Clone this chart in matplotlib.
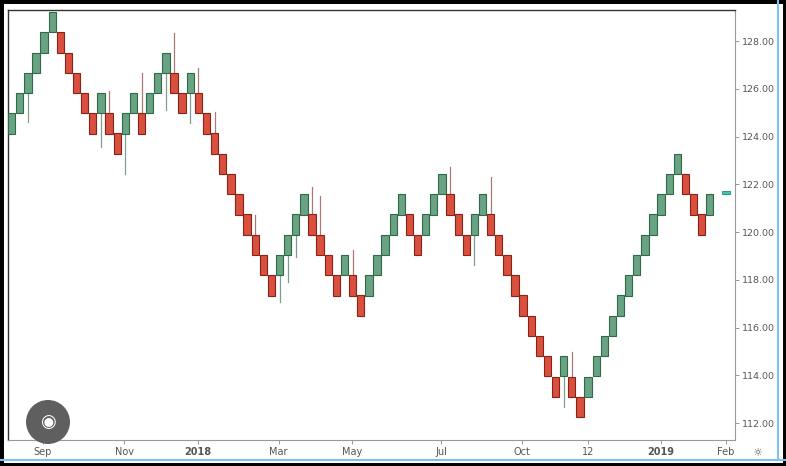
import matplotlib
matplotlib.use("Agg")
import matplotlib.pyplot as plt
from matplotlib.patches import Rectangle, Ellipse

# brick bottoms (price) and direction (1 up / -1 down)
brick_bottom = [124.12,124.97,125.82,126.67,127.51,128.36,127.51,126.67,125.82,124.97,124.12,
                124.97,124.12,123.28,124.12,124.97,124.12,124.97,125.82,126.67,
                125.82,124.97,125.82,124.97,124.12,123.28,122.43,121.58,120.73,119.89,119.04,118.19,117.34,
                118.19,119.04,119.89,120.73,119.89,119.04,118.19,117.34,118.19,117.34,116.50,117.34,118.19,119.04,119.89,120.73,
                119.89,119.04,119.89,120.73,121.58,120.73,119.89,119.04,119.89,120.73,119.89,
                119.04,118.19,117.34,116.50,115.65,114.80,113.95,113.10,113.95,113.10,112.25,
                113.10,113.95,114.80,115.65,116.50,117.34,118.19,119.04,119.89,120.73,121.58,122.43,121.58,120.73,119.89,120.73]
brick_dir = [1,1,1,1,1,1,-1,-1,-1,-1,-1,
             1,-1,-1,1,1,-1,1,1,1,
             -1,-1,1,-1,-1,-1,-1,-1,-1,-1,-1,-1,-1,
             1,1,1,1,-1,-1,-1,-1,1,-1,-1,1,1,1,1,1,
             -1,-1,1,1,1,-1,-1,-1,1,1,-1,
             -1,-1,-1,-1,-1,-1,-1,-1,1,-1,-1,
             1,1,1,1,1,1,1,1,1,1,1,1,-1,-1,-1,1]
brick_size = 0.848

wick_idx = [2,11,12,14,16,19,20,22,23,25,30,33,34,35,37,38,42,54,57,59,68,69]
wick_end = [124.62,123.57,125.92,122.43,126.65,125.11,128.35,124.58,126.86,125.03,120.71,
            117.08,117.92,118.97,121.90,121.51,119.25,122.74,118.62,122.32,112.68,114.99]

last_price = 121.66
tick_pos = [3.8,13.9,22.9,32.9,41.9,52.9,62.9,71,80,88]
tick_labels = ["Sep","Nov","2018","Mar","May","Jul","Oct","12","2019","Feb"]
y_ticks = [112,114,116,118,120,122,124,126,128]

fig = plt.figure(figsize=(7.86,4.66), dpi=100)
fig.patch.set_facecolor("white")
ax = fig.add_axes([8/786, 26/466, 727/786, 430/466])

up_face, up_edge = "#6aa383", "#2f6a46"
dn_face, dn_edge = "#d9503f", "#8a2216"
w = 0.9
for i,(b,d) in enumerate(zip(brick_bottom, brick_dir)):
    ax.add_patch(Rectangle((i-w/2,b), w, brick_size,
                 facecolor=up_face if d>0 else dn_face,
                 edgecolor=up_edge if d>0 else dn_edge, lw=0.8, zorder=3))
for i,e in zip(wick_idx, wick_end):
    b = brick_bottom[i]; t = b+brick_size
    col = "#7f9f8c" if brick_dir[i]>0 else "#a87b78"
    if e < b:
        ax.plot([i,i],[e,b], color=col, lw=0.9, zorder=2)
    else:
        ax.plot([i,i],[t,e], color=col, lw=0.9, zorder=2)
ax.add_patch(Rectangle((88-w/2,last_price-0.05), w, 0.12, facecolor="#3cc8b0",
             edgecolor="#1e8a78", lw=0.6, zorder=3))

ax.set_xlim(-0.45, 89.1)
ax.set_ylim(111.29, 129.30)
ax.yaxis.tick_right()
ax.set_yticks(y_ticks)
ax.set_yticklabels([f"{v:.2f}" for v in y_ticks], fontsize=6.8, color="#555555")
ax.set_xticks(tick_pos)
ax.set_xticklabels(tick_labels, fontsize=7, color="#555555")
for lab in ax.get_xticklabels():
    if lab.get_text() in ("2018","2019"):
        lab.set_fontweight("bold")
ax.tick_params(axis="both", length=3, color="#888888", width=0.6, pad=2)
for s in ["top","left"]:
    ax.spines[s].set_color("#333333"); ax.spines[s].set_linewidth(1)
for s in ["right","bottom"]:
    ax.spines[s].set_color("#999999"); ax.spines[s].set_linewidth(0.8)

# lens icon
fig.patches.append(Ellipse((48/786, 44/466), 44/786, 44/466, transform=fig.transFigure,
                           facecolor="#5f5f5f", edgecolor="none"))
fig.text(48/786, 44/466, "◉", ha="center", va="center", color="white", fontsize=13)
fig.text(757/786, 13/466, "☼", ha="center", va="center", color="#555555", fontsize=8)
# frame
fig.add_artist(plt.Line2D([0,1],[6/466,6/466], transform=fig.transFigure, color="#7ec3f0", lw=1.5))
fig.add_artist(plt.Line2D([778/786,778/786],[6/466,1], transform=fig.transFigure, color="#7ec3f0", lw=1.5))
fig.patches.append(Rectangle((0,0),1,1, transform=fig.transFigure, fill=False,
                             edgecolor="black", lw=5))
fig.savefig("out.png", dpi=100)
